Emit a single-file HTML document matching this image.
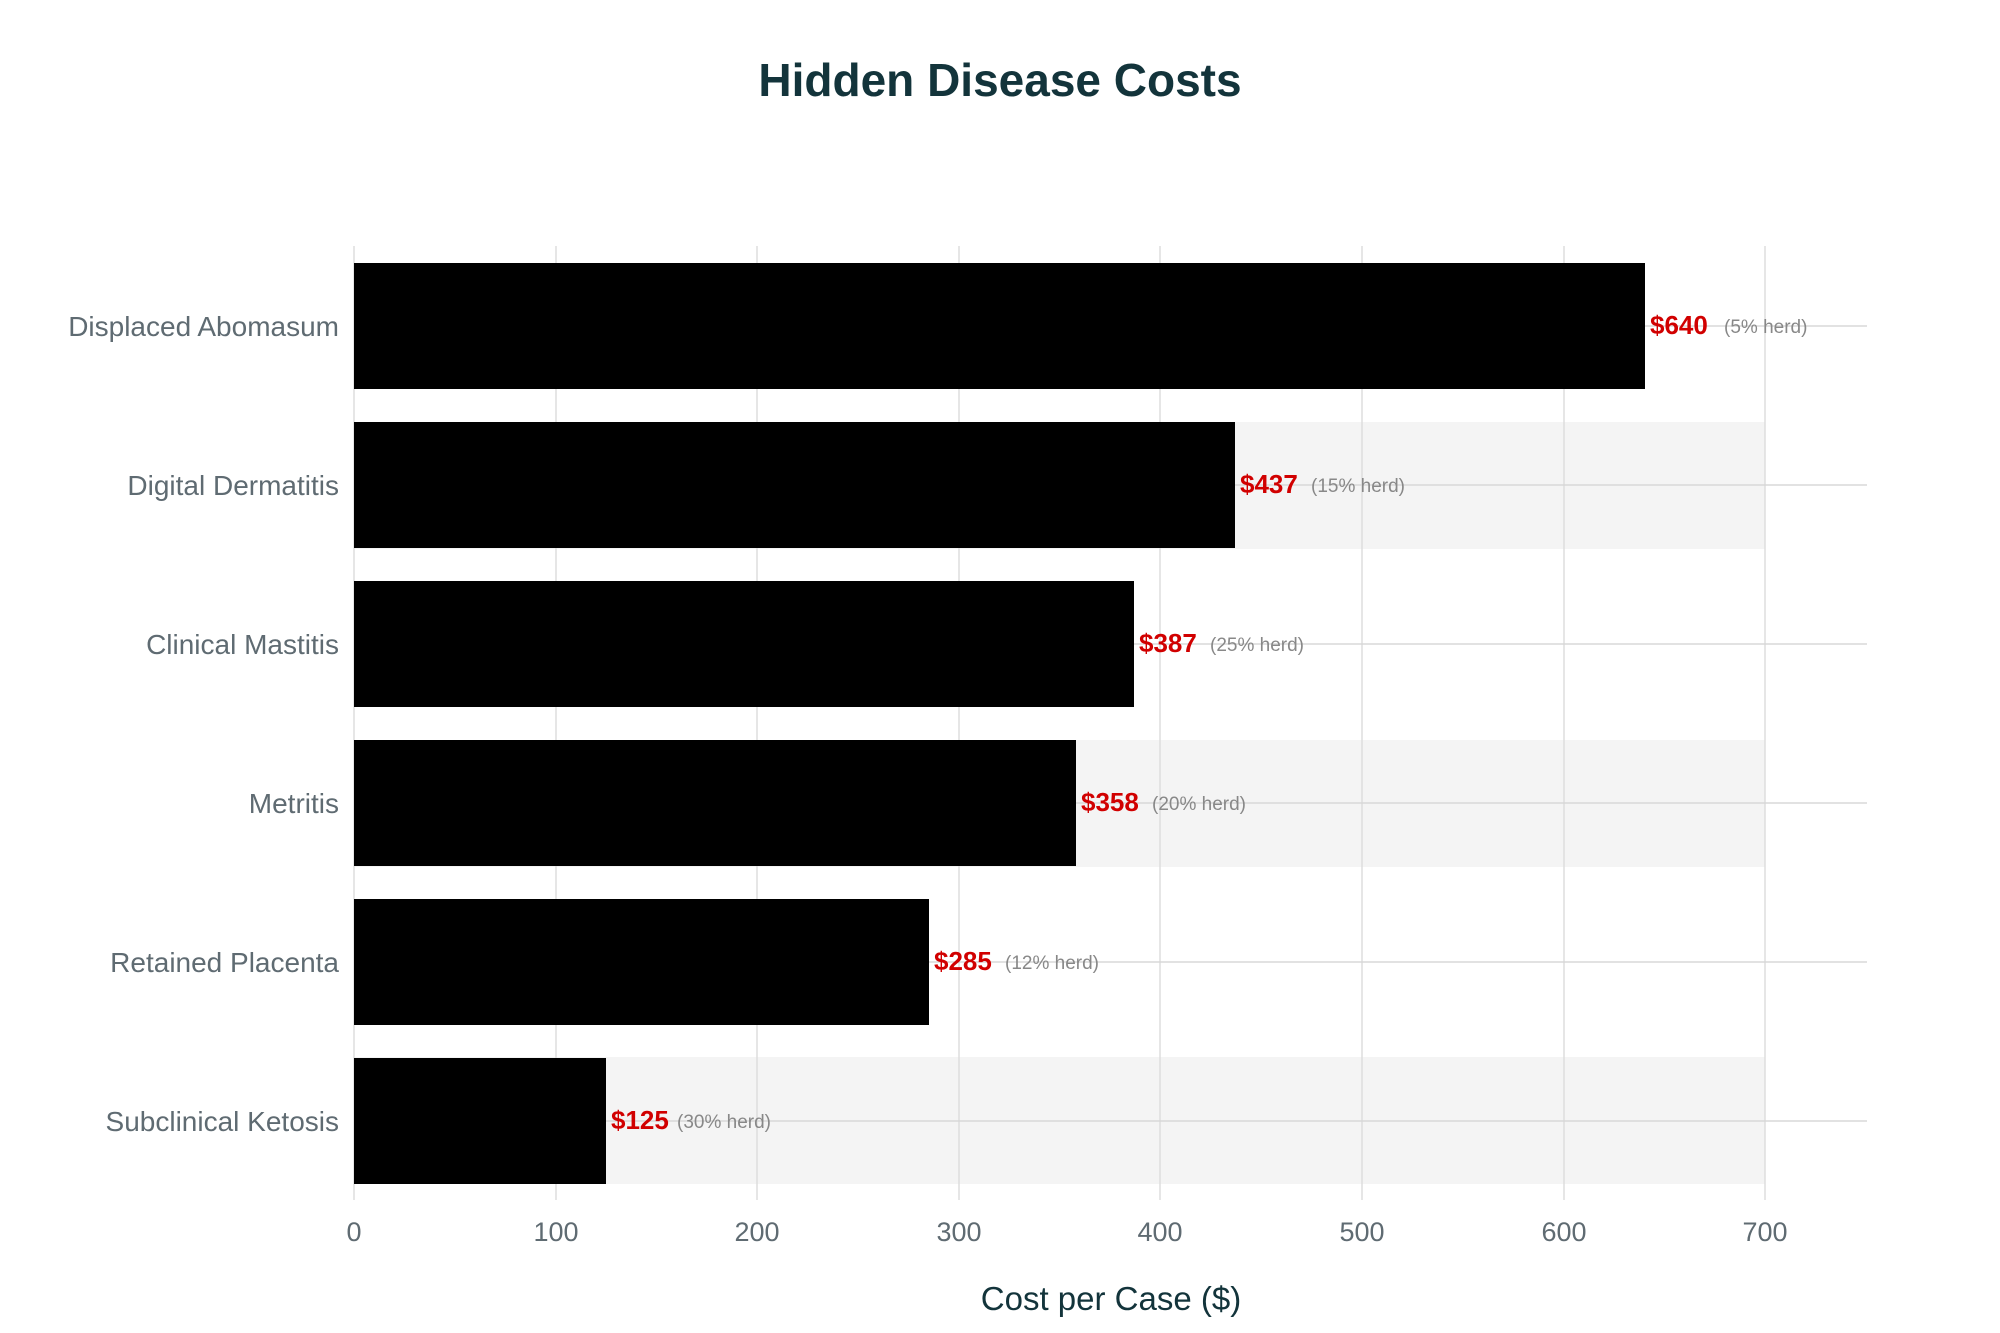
<!DOCTYPE html>
<html><head><meta charset="utf-8"><style>
html,body{margin:0;padding:0;background:#fff;}
svg{display:block;font-family:"Liberation Sans",sans-serif;}
</style></head><body>
<svg width="2000" height="1333" viewBox="0 0 2000 1333" xmlns="http://www.w3.org/2000/svg">
<rect width="2000" height="1333" fill="#fff"/>
<text x="1000" y="96" text-anchor="middle" font-size="46" font-weight="bold" fill="#13343b">Hidden Disease Costs</text>
<rect x="354" y="422" width="1411" height="127" fill="#f4f4f4"/>
<rect x="354" y="740" width="1411" height="127" fill="#f4f4f4"/>
<rect x="354" y="1057" width="1411" height="127" fill="#f4f4f4"/>
<g stroke="#dddddd" stroke-width="1.5">
<line x1="354" y1="246" x2="354" y2="1200"/>
<line x1="556" y1="246" x2="556" y2="1200"/>
<line x1="757" y1="246" x2="757" y2="1200"/>
<line x1="959" y1="246" x2="959" y2="1200"/>
<line x1="1160" y1="246" x2="1160" y2="1200"/>
<line x1="1362" y1="246" x2="1362" y2="1200"/>
<line x1="1564" y1="246" x2="1564" y2="1200"/>
<line x1="1765" y1="246" x2="1765" y2="1200"/>
</g>
<g stroke="#d8d8d8" stroke-width="1.5">
<line x1="354" y1="326" x2="1867" y2="326"/>
<line x1="354" y1="485" x2="1867" y2="485"/>
<line x1="354" y1="644" x2="1867" y2="644"/>
<line x1="354" y1="803" x2="1867" y2="803"/>
<line x1="354" y1="962" x2="1867" y2="962"/>
<line x1="354" y1="1121" x2="1867" y2="1121"/>
</g>
<g fill="#000">
<rect x="354" y="263" width="1291" height="126"/>
<rect x="354" y="422" width="881" height="126"/>
<rect x="354" y="581" width="780" height="126"/>
<rect x="354" y="740" width="722" height="126"/>
<rect x="354" y="899" width="575" height="126"/>
<rect x="354" y="1058" width="252" height="126"/>
</g>
<g font-size="28" fill="#5f6b72" text-anchor="end">
<text x="339" y="336">Displaced Abomasum</text>
<text x="339" y="495">Digital Dermatitis</text>
<text x="339" y="654">Clinical Mastitis</text>
<text x="339" y="813">Metritis</text>
<text x="339" y="972">Retained Placenta</text>
<text x="339" y="1131">Subclinical Ketosis</text>
</g>
<g font-size="26" font-weight="bold" fill="#d10000">
<text x="1650" y="334">$640</text>
<text x="1240" y="493">$437</text>
<text x="1139" y="652">$387</text>
<text x="1081" y="811">$358</text>
<text x="934" y="970">$285</text>
<text x="611" y="1129">$125</text>
</g>
<g font-size="19" fill="#888">
<text x="1724" y="333">(5% herd)</text>
<text x="1311" y="492">(15% herd)</text>
<text x="1210" y="651">(25% herd)</text>
<text x="1152" y="810">(20% herd)</text>
<text x="1005" y="969">(12% herd)</text>
<text x="677" y="1128">(30% herd)</text>
</g>
<g font-size="27" fill="#5f6b72" text-anchor="middle">
<text x="354" y="1241">0</text>
<text x="556" y="1241">100</text>
<text x="757" y="1241">200</text>
<text x="959" y="1241">300</text>
<text x="1160" y="1241">400</text>
<text x="1362" y="1241">500</text>
<text x="1564" y="1241">600</text>
<text x="1765" y="1241">700</text>
</g>
<text x="1111" y="1310" text-anchor="middle" font-size="33" fill="#13343b">Cost per Case ($)</text>
</svg>
</body></html>
